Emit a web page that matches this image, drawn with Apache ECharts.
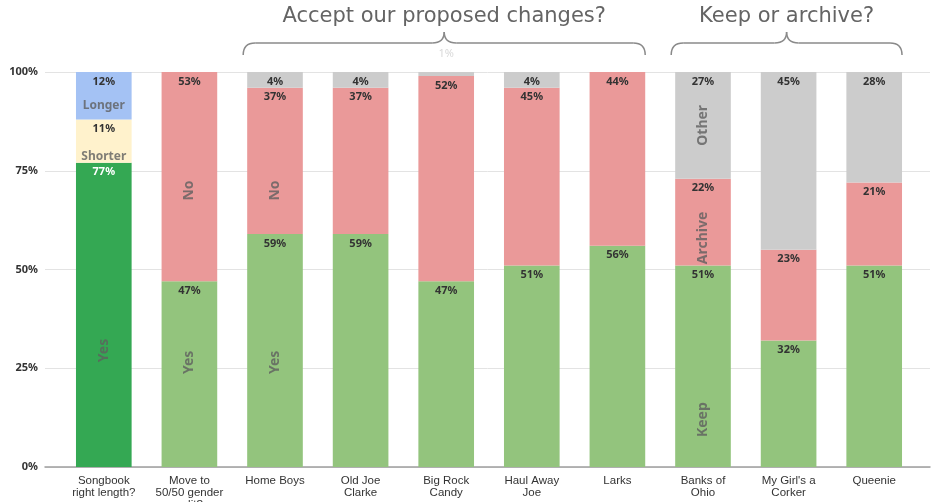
<!DOCTYPE html>
<html>
<head>
<meta charset="utf-8">
<script src="https://cdn.jsdelivr.net/npm/echarts@6/dist/echarts.min.js"></script>
<style>
  html, body { margin: 0; padding: 0; background: #fff; }
  #chart { width: 933px; height: 502px; }
</style>
</head>
<body>
<div id="chart"></div>
<script>
// Survey results: share of responses per question / song
const categories = [
  'Songbook\nright length?', 'Move to\n50/50 gender\nsplit?', 'Home Boys', 'Old Joe\nClarke',
  'Big Rock\nCandy', 'Haul Away\nJoe', 'Larks', 'Banks of\nOhio', "My Girl's a\nCorker", 'Queenie'
];
const yesValues     = [77, 47, 59, 59, 47, 51, 56, 51, 32, 51];   // Yes / Keep
const shorterValues = [11, null, null, null, null, null, null, null, null, null];
const longerValues  = [12, null, null, null, null, null, null, null, null, null];
const noValues      = [null, 53, 37, 37, 52, 45, 44, 22, 23, 21]; // No / Archive
const otherValues   = [null, null, 4, 4, 1, 4, null, 27, 45, 28];
const yTicks = [0, 25, 50, 75, 100];

// Group headings drawn over the brackets
const groupTitles = ['Accept our proposed changes?', 'Keep or archive?'];
const groupRanges = [[2, 6], [7, 9]]; // first and last category index of each group

// Segment captions written inside the bars
const noteTexts  = ['Yes', 'Yes', 'Yes', 'No', 'No', 'Other', 'Archive', 'Keep'];
const noteCats   = [0, 1, 2, 1, 2, 7, 7, 7];
const noteLevels = [29.5, 26.5, 26.5, 70, 70, 86.5, 58, 12];
const flatTexts  = ['Longer', 'Shorter'];
const flatCats   = [0, 0];
const flatLevels = [91.4, 78.6];

const GREEN = '#93c47d', DARK_GREEN = '#34a853', RED = '#ea9999', GREY = '#cccccc';
const CREAM = '#fff2cc', BLUE = '#a4c2f4';
const valueFont = { fontFamily: 'Noto Sans', fontWeight: 'bold', fontSize: 11, color: '#333' };

const chart = echarts.init(document.getElementById('chart'));

function pct(p) { return p.value == null ? '' : p.value + '%'; }

function barSeries(name, values, color) {
  return {
    name: name,
    type: 'bar',
    stack: 'total',
    xAxisIndex: 0, yAxisIndex: 0,
    barCategoryGap: '35%',
    itemStyle: { color: color },
    label: Object.assign({ show: true, position: 'insideTop', distance: 4, formatter: pct }, valueFont),
    emphasis: { disabled: true },
    data: values
  };
}

const yesData = yesValues.map((v, i) => i === 0
  ? { value: v, itemStyle: { color: DARK_GREEN }, label: { color: '#fff' } }
  : v);
const otherData = otherValues.map(v => v === 1
  ? { value: v, label: { position: 'top', distance: 13, color: '#d9d9d9', fontWeight: 'normal' } }
  : v);

const noteFont = { fontFamily: 'Noto Sans', fontWeight: 'bold', fontSize: 14, color: '#5f5f5f' };

const option = {
  animation: false,
  backgroundColor: '#fff',
  grid: [
    { left: 61, right: 16, top: 72, bottom: 35, containLabel: false, outerBoundsMode: 'none' },
    { left: 45, right: 3, top: 72, bottom: 35, containLabel: false, outerBoundsMode: 'none' }
  ],
  xAxis: [
    {
      type: 'category', gridIndex: 0, data: categories,
      axisLine: { show: false }, axisTick: { show: false },
      axisLabel: {
        interval: 0, margin: 8, fontFamily: 'Liberation Sans', fontSize: 11.5,
        color: '#333', lineHeight: 12, hideOverlap: false
      }
    },
    {
      type: 'category', gridIndex: 1, data: [''],
      axisLine: { lineStyle: { color: '#9e9e9e', width: 1.5 } },
      axisTick: { show: false }, axisLabel: { show: false }
    }
  ],
  yAxis: [
    { type: 'value', gridIndex: 0, min: 0, max: 100, show: false },
    {
      type: 'value', gridIndex: 1, min: yTicks[0], max: yTicks[yTicks.length - 1], interval: 25,
      axisLine: { show: false }, axisTick: { show: false },
      splitLine: { lineStyle: { color: '#e3e3e3', width: 1 } },
      axisLabel: {
        margin: 7, fontFamily: 'Noto Sans', fontWeight: 'bold', fontSize: 11, color: '#333',
        formatter: v => v + '%'
      }
    }
  ],
  series: [
    barSeries('Yes', yesData, GREEN),
    barSeries('Shorter', shorterValues, CREAM),
    barSeries('Longer', longerValues, BLUE),
    barSeries('No', noValues, RED),
    barSeries('Other', otherData, GREY),
    {
      type: 'scatter', xAxisIndex: 0, yAxisIndex: 0, symbolSize: 0, silent: true, z: 5,
      data: noteTexts.map((t, i) => ({ value: [noteCats[i], noteLevels[i]], name: t })),
      label: Object.assign({ show: true, position: 'inside', rotate: 90, formatter: p => p.name }, noteFont)
    },
    {
      type: 'scatter', xAxisIndex: 0, yAxisIndex: 0, symbolSize: 0, silent: true, z: 5,
      data: flatTexts.map((t, i) => ({ value: [flatCats[i], flatLevels[i]], name: t })),
      label: Object.assign({ show: true, position: 'inside', formatter: p => p.name }, noteFont, { fontSize: 12 })
    }
  ]
};
chart.setOption(option);

// Brackets and headings above the two groups of bars
const braceStyle = { stroke: '#8a8a8a', lineWidth: 1.5, fill: null };
function braceParts(x0, x1, tip, yEnd, yLine, yTip) {
  const r = 12;
  const curve = (ax, ay, cx, cy, bx, by) => ({
    type: 'bezierCurve', silent: true, style: braceStyle,
    shape: { x1: ax, y1: ay, cpx1: cx, cpy1: cy, x2: bx, y2: by }
  });
  const line = (ax, bx) => ({
    type: 'line', silent: true, style: braceStyle,
    shape: { x1: ax, y1: yLine, x2: bx, y2: yLine }
  });
  return [
    curve(x0, yEnd, x0, yLine, x0 + r, yLine),
    line(x0 + r, tip - r),
    curve(tip - r, yLine, tip, yLine, tip, yTip),
    curve(tip, yTip, tip, yLine, tip + r, yLine),
    line(tip + r, x1 - r),
    curve(x1 - r, yLine, x1, yLine, x1, yEnd)
  ];
}

const band = chart.convertToPixel({ xAxisIndex: 0 }, 1) - chart.convertToPixel({ xAxisIndex: 0 }, 0);
const halfBar = band * 0.65 / 2;
let graphics = [];
groupRanges.forEach((r, gi) => {
  const x0 = chart.convertToPixel({ xAxisIndex: 0 }, r[0]) - halfBar - 4;
  const x1 = chart.convertToPixel({ xAxisIndex: 0 }, r[1]) + halfBar;
  const tip = (x0 + x1) / 2;
  graphics = graphics.concat(braceParts(x0, x1, tip, 55, 43, 32));
  graphics.push({
    type: 'text',
    x: tip, y: 17,
    silent: true,
    style: {
      text: groupTitles[gi], fill: '#646464', fontFamily: 'DejaVu Sans', fontSize: 21,
      align: 'center', verticalAlign: 'middle'
    }
  });
});
chart.setOption({ graphic: { elements: graphics } });
</script>
</body>
</html>
